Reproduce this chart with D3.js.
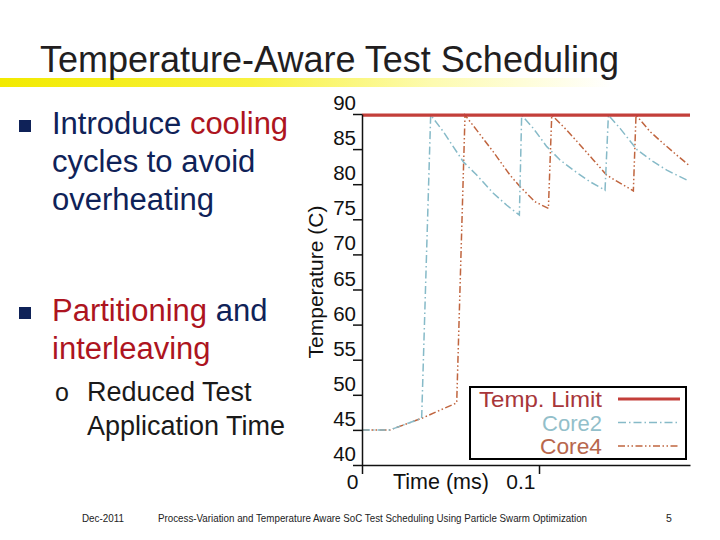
<!DOCTYPE html>
<html>
<head>
<meta charset="utf-8">
<script src="https://cdn.jsdelivr.net/npm/d3@7"></script>
<style>
  html, body { margin: 0; padding: 0; background: #fff; }
  svg { display: block; font-family: "Liberation Sans", Arial, sans-serif; }
</style>
</head>
<body>
<svg id="chart" width="720" height="540"></svg>
<script>
// ---------- data ----------
const titleText = "Temperature-Aware Test Scheduling";
const footerDate = "Dec-2011";
const footerTitle = "Process-Variation and Temperature Aware SoC Test Scheduling Using Particle Swarm Optimization";
const footerPage = "5";

const seriesNames = ["Temp. Limit", "Core2", "Core4"];
const tempLimit = 89.85;

const timeCore2 = [0, 0.0158, 0.0337, 0.0388, 0.0459, 0.0497, 0.0572, 0.0648, 0.0742, 0.0818, 0.0889,
                   0.0902, 0.0968, 0.1044, 0.1119, 0.1194, 0.1288, 0.1373,
                   0.1392, 0.1458, 0.1554, 0.1646, 0.1722, 0.1834];
const tempCore2 = [45.0, 45.0, 46.65, 89.85, 87.5, 86.05, 83.2, 81.3, 78.7, 77.0, 75.6,
                   89.85, 87.95, 85.35, 83.45, 82.0, 80.35, 79.15,
                   89.85, 87.95, 84.9, 83.2, 82.0, 80.6];

const timeCore4 = [0, 0.0158, 0.0337, 0.0535, 0.0582, 0.0648, 0.0742, 0.0836, 0.0893, 0.0977, 0.1053,
                   0.1072, 0.1157, 0.1232, 0.1307, 0.1382, 0.1458, 0.1533,
                   0.1548, 0.1627, 0.1702, 0.1778, 0.1844];
const tempCore4 = [45.0, 45.0, 46.65, 48.85, 89.85, 87.7, 84.6, 81.3, 79.65, 77.5, 76.55,
                   89.85, 87.7, 85.6, 83.45, 81.3, 80.15, 79.05,
                   89.85, 87.5, 85.8, 84.15, 82.75];

const yTicks = [40, 45, 50, 55, 60, 65, 70, 75, 80, 85, 90];
const xTicks = [0, 0.1];
const xTickLabels = ["0", "0.1"];
const xAxisTitle = "Time (ms)";
const yAxisTitle = "Temperature (C)";

const bulletLines = [
  [{t: "Introduce ", red: false}, {t: "cooling", red: true}],
  [{t: "cycles to avoid", red: false}],
  [{t: "overheating", red: false}],
  [{t: "Partitioning", red: true}, {t: " and", red: false}],
  [{t: "interleaving", red: true}]
];
const subBulletLines = ["Reduced Test", "Application Time"];

// ---------- styling ----------
const navy = "#0f2258", red = "#ad1420";
const cLimit = "#c33f3a", cCore2 = "#86bac8", cCore4 = "#c0653f";
const tLimit = "#a8363a", tCore2 = "#93bfca", tCore4 = "#b8674d";

const svg = d3.select("#chart");

// title + yellow gradient bar
const defs = svg.append("defs");
const grad = defs.append("linearGradient").attr("id", "ybar").attr("x1", 0).attr("x2", 1).attr("y1", 0).attr("y2", 0);
grad.append("stop").attr("offset", "0%").attr("stop-color", "#f2ea00");
grad.append("stop").attr("offset", "35%").attr("stop-color", "#f8f240");
grad.append("stop").attr("offset", "60%").attr("stop-color", "#fdfbb0");
grad.append("stop").attr("offset", "85%").attr("stop-color", "#ffffff");
svg.append("rect").attr("x", 0).attr("y", 78).attr("width", 720).attr("height", 9).attr("fill", "url(#ybar)");
svg.append("text").attr("x", 40).attr("y", 72).attr("font-size", 36).attr("fill", "#221e1f").text(titleText);

// bullets
const lineY = [134, 172, 210, 321, 359];
bulletLines.forEach((segs, i) => {
  const t = svg.append("text").attr("x", 52).attr("y", lineY[i]).attr("font-size", 31);
  segs.forEach(s => t.append("tspan").attr("fill", s.red ? red : navy).text(s.t));
});
[134, 321].forEach(by => {
  svg.append("rect").attr("x", 19).attr("y", by - 14).attr("width", 12).attr("height", 12).attr("fill", navy);
});
svg.append("text").attr("x", 55).attr("y", 401).attr("font-size", 25).attr("fill", "#1a1a1a").text("o");
subBulletLines.forEach((s, i) => {
  svg.append("text").attr("x", 87).attr("y", 401 + i * 34).attr("font-size", 27).attr("fill", "#1a1a1a").text(s);
});

// footer
svg.append("text").attr("x", 82).attr("y", 522).attr("font-size", 10.5).attr("fill", "#222")
  .attr("textLength", 42).attr("lengthAdjust", "spacingAndGlyphs").text(footerDate);
svg.append("text").attr("x", 158).attr("y", 522).attr("font-size", 10.5).attr("fill", "#222")
  .attr("textLength", 429).attr("lengthAdjust", "spacingAndGlyphs").text(footerTitle);
svg.append("text").attr("x", 666).attr("y", 522).attr("font-size", 10.5).attr("fill", "#222").text(footerPage);

// ---------- chart ----------
const x = d3.scaleLinear().domain([0, 0.1853]).range([362, 690]);
const y = d3.scaleLinear().domain([40, 90]).range([465, 114]);

const line = d3.line().x(d => x(d[0])).y(d => y(d[1]));
const core2 = timeCore2.map((t, i) => [t, tempCore2[i]]);
const core4 = timeCore4.map((t, i) => [t, tempCore4[i]]);

svg.append("path").attr("d", line(core4)).attr("fill", "none").attr("stroke", cCore4)
  .attr("stroke-width", 1.5).attr("stroke-dasharray", "7,2.5,1.5,2.5,1.5,2.5");
svg.append("path").attr("d", line(core2)).attr("fill", "none").attr("stroke", cCore2)
  .attr("stroke-width", 1.5).attr("stroke-dasharray", "8,3,1.5,3");
svg.append("path").attr("d", line([[0, tempLimit], [x.domain()[1], tempLimit]]))
  .attr("fill", "none").attr("stroke", cLimit).attr("stroke-width", 3.2);

// y axis
const gy = svg.append("g").attr("transform", "translate(362,0)")
  .call(d3.axisLeft(y).tickValues(yTicks).tickSize(9).tickSizeOuter(0).tickPadding(-3));
gy.selectAll("line, path").attr("stroke", "#111").attr("stroke-width", 1.5);
gy.selectAll("text").attr("font-size", 20.5).attr("font-family", "Liberation Sans, Arial, sans-serif")
  .attr("fill", "#111").attr("dy", "-0.22em");

// x axis
const gx = svg.append("g").attr("transform", "translate(0,465)")
  .call(d3.axisBottom(x).tickValues(xTicks).tickSize(9).tickSizeOuter(0)
        .tickFormat((d, i) => xTickLabels[i]));
gx.selectAll("line, path").attr("stroke", "#111").attr("stroke-width", 1.5);
gx.selectAll("text").attr("font-size", 21).attr("font-family", "Liberation Sans, Arial, sans-serif")
  .attr("fill", "#111").attr("text-anchor", "end").attr("dx", -4).attr("y", 24).attr("dy", 0);

svg.append("text").attr("x", 393).attr("y", 489).attr("font-size", 21.5).attr("fill", "#111").text(xAxisTitle);
svg.append("text").attr("transform", "translate(323,282) rotate(-90)").attr("text-anchor", "middle")
  .attr("font-size", 21).attr("fill", "#111").text(yAxisTitle);

// legend
const lg = svg.append("g");
lg.append("rect").attr("x", 470).attr("y", 387).attr("width", 216).attr("height", 72)
  .attr("fill", "#fff").attr("stroke", "#000").attr("stroke-width", 2);
const legStroke = [cLimit, cCore2, cCore4];
const legText = [tLimit, tCore2, tCore4];
const legDash = [null, "8,3,1.5,3", "7,2.5,1.5,2.5,1.5,2.5"];
const legWidth = [3.2, 1.5, 1.5];
const legY = [407, 430.5, 454];
seriesNames.forEach((n, i) => {
  lg.append("text").attr("x", 602).attr("y", legY[i]).attr("text-anchor", "end")
    .attr("font-size", 21.5).attr("fill", legText[i])
    .attr("textLength", [123, 60, 62][i]).attr("lengthAdjust", "spacingAndGlyphs").text(n);
  lg.append("line").attr("x1", 618).attr("x2", 680).attr("y1", legY[i] - 8).attr("y2", legY[i] - 8)
    .attr("stroke", legStroke[i]).attr("stroke-width", legWidth[i])
    .attr("stroke-dasharray", legDash[i]);
});
</script>
</body>
</html>
